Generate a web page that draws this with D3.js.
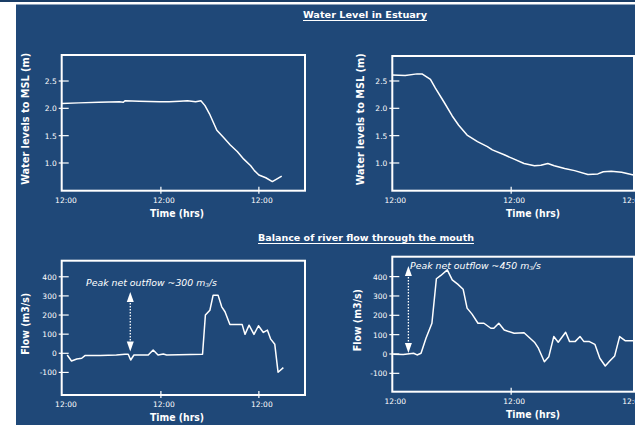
<!DOCTYPE html>
<html><head><meta charset="utf-8">
<script src="https://cdn.jsdelivr.net/npm/d3@7/dist/d3.min.js"></script>
<style>
html,body{margin:0;padding:0;background:#fff;}
svg{display:block;}
text{font-family:"Comic Sans MS","DejaVu Sans",sans-serif;fill:#fff;}
</style></head>
<body>
<svg id="c" width="635" height="425"></svg>
<script>
// ---------- DATA ----------
const timeTickHours = [0, 24, 48];
const timeTickLabels = ["12:00", "12:00", "12:00"];
const levelTicks = [1.0, 1.5, 2.0, 2.5];
const flowTicks = [-100, 0, 100, 200, 300, 400];

// Water level, left estuary (hours, m)
const levelLeftT = [-0.3, 3.9, 8.8, 13.8, 14.8, 15.2, 18.7, 23.7, 26, 28.6, 30.5, 32.5, 33.8, 34.8, 35.9, 36.8, 37.7, 39.3, 41.0, 42.7, 44.3, 46.0, 46.9, 48.0, 49.7, 51.3, 53.6];
const levelLeftV = [2.09, 2.10, 2.11, 2.12, 2.11, 2.14, 2.13, 2.12, 2.12, 2.13, 2.14, 2.12, 2.14, 2.05, 1.90, 1.75, 1.60, 1.47, 1.33, 1.21, 1.07, 0.95, 0.86, 0.78, 0.73, 0.66, 0.76];

// Water level, right estuary
const levelRightT = [0, 2.6, 5.0, 6.0, 7.7, 8.7, 10.4, 12.1, 13.4, 15.1, 17.2, 19.2, 20.2, 22.6, 24.6, 26.6, 28.7, 30.0, 31.4, 32.7, 34.8, 36.8, 39.5, 41.5, 42.6, 44.2, 46.3, 48.7];
const levelRightV = [2.61, 2.60, 2.63, 2.63, 2.53, 2.37, 2.12, 1.86, 1.69, 1.51, 1.39, 1.30, 1.24, 1.15, 1.07, 0.99, 0.95, 0.96, 0.99, 0.95, 0.90, 0.86, 0.79, 0.80, 0.84, 0.85, 0.83, 0.78];

// Net flow through mouth, left (hours, m3/s)
const flowLeftT = [1.05, 2.1, 3.4, 4.6, 5.4, 9.1, 13.1, 15.2, 16.0, 16.6, 17.4, 20.9, 22.1, 23.3, 24.6, 25.4, 34.2, 34.9, 36.0, 36.8, 38.0, 38.9, 39.7, 40.9, 43.9, 44.6, 45.6, 46.8, 47.9, 49.1, 50.1, 50.9, 51.9, 52.7, 54.0];
const flowLeftV = [-9, -40, -30, -26, -12, -12, -9, -5, -5, -35, -9, -9, 17, -9, -4, -9, -5, 200, 225, 304, 304, 243, 217, 151, 151, 99, 147, 99, 144, 109, 121, 74, 47, -99, -75];

// Net flow through mouth, right
const flowRightT = [0.2, 2.2, 4.3, 5.0, 5.8, 6.8, 8.0, 8.9, 9.8, 11.1, 12.1, 13.2, 14.3, 15.1, 16.1, 17.3, 18.5, 19.9, 20.5, 21.5, 22.6, 24.6, 26.6, 28.7, 29.5, 30.7, 31.6, 32.6, 33.5, 35.0, 35.8, 36.9, 37.9, 38.7, 39.8, 40.9, 41.9, 43.0, 43.9, 44.9, 45.9, 47.0, 49.3];
const flowRightV = [-2, -3, 4, -5, 4, 81, 159, 389, 406, 435, 383, 361, 335, 237, 206, 159, 159, 133, 133, 159, 124, 107, 110, 61, 30, -40, -14, 90, 61, 112, 64, 64, 90, 64, 64, 50, -22, -62, -36, -10, 90, 69, 69];

// Peak annotations: [hour, low, high]
const peakLeft = [16.5, 10, 320];
const peakRight = [3.25, 5, 455];
const peakLeftText = ["Peak  net outflow ~300 m", "3", "/s"];
const peakRightText = ["Peak  net outflow ~450 m", "3", "/s"];

// ---------- DRAW ----------
const svg = d3.select("#c");
const BG = "#1f4878";
svg.append("rect").attr("x", 0).attr("y", 0).attr("width", 635).attr("height", 2).attr("fill", "#1a3d66");
svg.append("rect").attr("x", 16).attr("y", 4.5).attr("width", 619).attr("height", 421).attr("fill", BG);

function fitText(sel, w) {
  sel.attr("textLength", w).attr("lengthAdjust", "spacingAndGlyphs");
  return sel;
}

function sectionTitle(txt, cx, y, w) {
  fitText(svg.append("text").attr("x", cx).attr("y", y).attr("text-anchor", "middle")
    .attr("font-size", 9.5).attr("font-weight", "bold").text(txt), w);
  svg.append("line").attr("x1", cx - w / 2).attr("x2", cx + w / 2).attr("y1", y + 2.5).attr("y2", y + 2.5)
    .attr("stroke", "#fff").attr("stroke-width", 1);
}
sectionTitle("Water Level in Estuary", 365, 18, 124);
sectionTitle("Balance of river flow through the mouth", 366, 241, 216);

function panel(o) {
  const x = d3.scaleLinear().domain(o.xDomain).range([o.left, o.right]);
  const y = d3.scaleLinear().domain(o.yDomain).range([o.bottom, o.top]);
  const g = svg.append("g");
  const pts = o.t.map((t, i) => [t, o.v[i]]);
  g.append("path").datum(pts)
    .attr("d", d3.line().x(d => x(d[0])).y(d => y(d[1])))
    .attr("fill", "none").attr("stroke", "#fff").attr("stroke-width", 1.5).attr("stroke-linejoin", "round");
  g.append("rect").attr("x", o.left).attr("y", o.top).attr("width", o.right - o.left).attr("height", o.bottom - o.top)
    .attr("fill", "none").attr("stroke", "#fff").attr("stroke-width", 2);
  o.yTicks.forEach(v => {
    g.append("line").attr("x1", o.left - 3).attr("x2", o.left + 7).attr("y1", y(v)).attr("y2", y(v))
      .attr("stroke", "#fff").attr("stroke-width", 1.2);
    g.append("text").attr("x", o.left - 5).attr("y", y(v) + 3).attr("text-anchor", "end")
      .attr("font-size", 7.5).text(o.yFmt(v));
  });
  timeTickHours.forEach((h, i) => {
    const px = x(h);
    if (px - o.left > 4 && o.right - px > 4) {
      g.append("line").attr("x1", px).attr("x2", px).attr("y1", o.bottom - 4).attr("y2", o.bottom + 3)
        .attr("stroke", "#fff").attr("stroke-width", 1.2);
    }
    g.append("text").attr("x", px + 3).attr("y", o.bottom + 12).attr("text-anchor", "middle")
      .attr("font-size", 7.5).text(timeTickLabels[i]);
  });
  fitText(g.append("text").attr("x", o.xTitleX).attr("y", o.bottom + 26).attr("text-anchor", "middle")
    .attr("font-size", 10.5).attr("font-weight", "bold").text("Time (hrs)"), 54);
  fitText(g.append("text").attr("transform", `translate(${o.yTitleX},${(o.top + o.bottom) / 2 - 4}) rotate(-90)`)
    .attr("text-anchor", "middle").attr("font-size", 10.5).attr("font-weight", "bold").text(o.yTitle), o.yTitleW);
  return {x, y};
}

const fmt1 = d3.format(".1f");
const fmt0 = d => String(d);

panel({left: 61.7, right: 305, top: 55, bottom: 190.7, xDomain: [-0.3, 59.3], yDomain: [0.493, 2.976],
  t: levelLeftT, v: levelLeftV, yTicks: levelTicks, yFmt: fmt1, xTitleX: 177, yTitleX: 29, yTitle: "Water levels to MSL (m)", yTitleW: 132});
panel({left: 392.3, right: 634, top: 56, bottom: 190.7, xDomain: [0, 48.8], yDomain: [0.493, 2.957],
  t: levelRightT, v: levelRightV, yTicks: levelTicks, yFmt: fmt1, xTitleX: 533, yTitleX: 364, yTitle: "Water levels to MSL (m)", yTitleW: 132});
const pl = panel({left: 61.7, right: 305, top: 260.7, bottom: 395, xDomain: [-0.3, 59.3], yDomain: [-218, 484],
  t: flowLeftT, v: flowLeftV, yTicks: flowTicks, yFmt: fmt0, xTitleX: 177, yTitleX: 29, yTitle: "Flow (m3/s)", yTitleW: 62});
const pr = panel({left: 392.3, right: 634, top: 256.7, bottom: 391.7, xDomain: [0, 48.8], yDomain: [-195, 503],
  t: flowRightT, v: flowRightV, yTicks: flowTicks, yFmt: fmt0, xTitleX: 533, yTitleX: 361, yTitle: "Flow (m3/s)", yTitleW: 62});

function peakArrow(p, a, txt, tx, ty) {
  const px = p.x(a[0]), y1 = p.y(a[2]), y2 = p.y(a[1]);
  svg.append("line").attr("x1", px).attr("x2", px).attr("y1", y1 + 8).attr("y2", y2 - 8)
    .attr("stroke", "#fff").attr("stroke-width", 1.3).attr("stroke-dasharray", "1.5,1.5");
  svg.append("path").attr("d", `M${px},${y1} L${px - 3.5},${y1 + 10} L${px + 3.5},${y1 + 10} Z`).attr("fill", "#fff");
  svg.append("path").attr("d", `M${px},${y2} L${px - 3.5},${y2 - 10} L${px + 3.5},${y2 - 10} Z`).attr("fill", "#fff");
  const t = svg.append("text").attr("x", tx).attr("y", ty).attr("font-size", 9).attr("font-style", "italic");
  t.append("tspan").text(txt[0]);
  t.append("tspan").attr("font-size", 5.5).attr("dy", 1).text(txt[1]);
  t.append("tspan").attr("dy", -1).text(txt[2]);
  fitText(t, 131);
}
peakArrow(pl, peakLeft, peakLeftText, 86, 286);
peakArrow(pr, peakRight, peakRightText, 410, 269);
</script>
</body></html>
